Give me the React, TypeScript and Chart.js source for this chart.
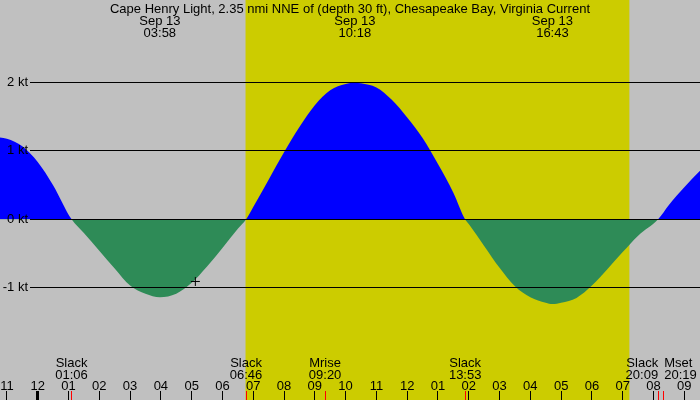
import React, { useEffect, useRef } from "react";
import Chart from "chart.js/auto";

const title =
  "Cape Henry Light, 2.35 nmi NNE of (depth 30 ft), Chesapeake Bay, Virginia Current";

// hours after midnight, Sep 13 -> current in knots (flood +, ebb -)
const hours = [
  -1.25, -1.0, -0.5, 0.0, 0.5, 1.1, 1.5, 2.0, 2.5, 3.0, 3.5, 3.97, 4.5, 5.0,
  5.5, 6.0, 6.5, 6.77, 7.0, 7.5, 8.0, 8.5, 9.0, 9.5, 10.0, 10.3, 10.5, 11.0,
  11.5, 12.0, 12.5, 13.0, 13.5, 13.88, 14.0, 14.5, 15.0, 15.5, 16.0, 16.5,
  16.72, 17.0, 17.5, 18.0, 18.5, 19.0, 19.5, 20.15, 20.5, 21.0, 21.55,
];
const knots = [
  1.2, 1.18, 1.07, 0.84, 0.5, 0, -0.2, -0.46, -0.72, -0.97, -1.09, -1.14,
  -1.09, -0.93, -0.69, -0.42, -0.14, 0, 0.18, 0.58, 0.98, 1.35, 1.67, 1.89,
  1.98, 2.0, 1.99, 1.93, 1.75, 1.49, 1.19, 0.81, 0.39, 0, -0.07, -0.39, -0.71,
  -0.98, -1.14, -1.22, -1.24, -1.22, -1.15, -0.97, -0.73, -0.48, -0.24, 0,
  0.21, 0.47, 0.73,
];

// "now" marker
const nowHours = [5.12];
const nowKnots = [-0.91];

const yTicks = [2, 1, 0, -1];
const hourTicks = [
  -1, 0, 1, 2, 3, 4, 5, 6, 7, 8, 9, 10, 11, 12, 13, 14, 15, 16, 17, 18, 19, 20,
  21,
];
const hourLabels = [
  "11", "12", "01", "02", "03", "04", "05", "06", "07", "08", "09", "10", "11",
  "12", "01", "02", "03", "04", "05", "06", "07", "08", "09",
];

const extremeDate = "Sep 13";
const extremeTimes = ["03:58", "10:18", "16:43"];

const eventNames = ["Slack", "Slack", "Mrise", "Slack", "Slack", "Mset"];
const eventTimes = ["01:06", "06:46", "09:20", "13:53", "20:09", "20:19"];
const eventAlign: CanvasTextAlign[] = ["center", "center", "center", "center", "right", "left"];

const daylight = ["06:45", "19:13"];

const toHours = (t: string) => {
  const [h, m] = t.split(":").map(Number);
  return h + m / 60;
};

const FONT = "13px 'Liberation Sans'";

const tidePlugin = {
  id: "tideDecor",
  beforeDatasetsDraw(chart: any) {
    const { ctx, width, height } = chart;
    const x = chart.scales.x;
    ctx.save();
    ctx.fillStyle = "#c0c0c0";
    ctx.fillRect(0, 0, width, height);
    const x0 = x.getPixelForValue(toHours(daylight[0]));
    const x1 = x.getPixelForValue(toHours(daylight[1]));
    ctx.fillStyle = "#cccc00";
    ctx.fillRect(x0, 0, x1 - x0, height);
    ctx.restore();
  },
  afterDatasetsDraw(chart: any) {
    const { ctx, width } = chart;
    const x = chart.scales.x;
    const y = chart.scales.y;
    ctx.save();
    ctx.font = FONT;
    ctx.fillStyle = "#000";
    ctx.strokeStyle = "#000";
    ctx.lineWidth = 1;

    // knot lines + labels
    yTicks.forEach((v) => {
      const py = Math.floor(y.getPixelForValue(v)) + 0.5;
      ctx.beginPath();
      ctx.moveTo(30, py);
      ctx.lineTo(width, py);
      ctx.stroke();
      ctx.textAlign = "right";
      ctx.textBaseline = "middle";
      ctx.fillText(`${v} kt`, 28, py);
    });

    ctx.textBaseline = "alphabetic";
    ctx.textAlign = "center";
    ctx.fillText(title, width / 2, 12.5);

    extremeTimes.forEach((t) => {
      const px = x.getPixelForValue(toHours(t));
      ctx.fillText(extremeDate, px, 24.5);
      ctx.fillText(t, px, 36.5);
    });

    eventNames.forEach((name, i) => {
      const px = x.getPixelForValue(toHours(eventTimes[i]));
      ctx.textAlign = eventAlign[i];
      const off = eventAlign[i] === "left" ? 1 : 0;
      ctx.fillText(name, px + off, 366.5);
      ctx.fillText(eventTimes[i], px + off, 378.5);
    });

    ctx.textAlign = "center";
    hourTicks.forEach((h, i) => {
      const px = x.getPixelForValue(h);
      ctx.fillText(hourLabels[i], px, 390);
      const tx = Math.floor(px) + 0.5;
      ctx.lineWidth = h === 0 ? 3 : 1;
      ctx.beginPath();
      ctx.moveTo(tx, 391);
      ctx.lineTo(tx, 400);
      ctx.stroke();
    });

    ctx.strokeStyle = "#ff0000";
    ctx.lineWidth = 1;
    eventTimes.forEach((t) => {
      const tx = Math.floor(x.getPixelForValue(toHours(t))) + 0.5;
      ctx.beginPath();
      ctx.moveTo(tx, 391);
      ctx.lineTo(tx, 400);
      ctx.stroke();
    });
    ctx.restore();
  },
};

const TideChart = () => {
  const chartRef = useRef<HTMLCanvasElement | null>(null);

  useEffect(() => {
    if (!chartRef.current) return;
    const chart = new Chart(chartRef.current, {
      type: "line",
      data: {
        datasets: [
          {
            data: nowHours.map((h, i) => ({ x: h, y: nowKnots[i] })),
            showLine: false,
            pointStyle: "cross",
            pointRadius: 4.5,
            pointBorderColor: "#000",
            pointBorderWidth: 1,
            order: 0,
          },
          {
            data: hours.map((h, i) => ({ x: h, y: knots[i] })),
            borderColor: "rgba(0,0,0,0)",
            borderWidth: 0,
            pointRadius: 0,
            cubicInterpolationMode: "monotone",
            fill: { target: "origin", above: "#0000ff", below: "#2e8b57" },
            order: 1,
          },
        ],
      },
      options: {
        animation: false,
        responsive: false,
        events: [],
        layout: { padding: 0, autoPadding: false },
        plugins: { legend: { display: false }, tooltip: { enabled: false } },
        scales: {
          x: { type: "linear", display: false, min: -1.2244, max: 21.51 },
          y: { type: "linear", display: false, min: -2.6445, max: 3.2094 },
        },
      },
      plugins: [tidePlugin],
    });
    return () => {
      chart.destroy();
    };
  }, []);

  return <canvas ref={chartRef} width={700} height={400} />;
};

export default function App() {
  return (
    <div style={{ position: "fixed", left: 0, top: 0, width: 700, height: 400 }}>
      <TideChart />
    </div>
  );
}
